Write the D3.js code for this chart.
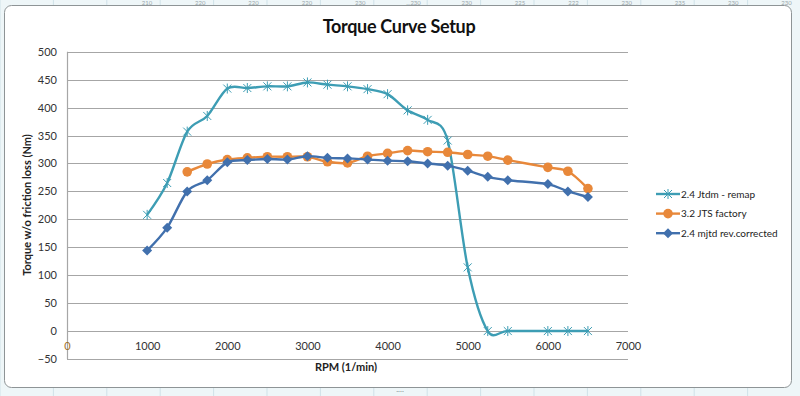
<!DOCTYPE html>
<html>
<head>
<meta charset="utf-8">
<script src="https://cdn.jsdelivr.net/npm/d3@7"></script>
<style>
  body { margin: 0; background: #fff; }
  svg { display: block; font-family: Lato, "Open Sans", sans-serif; }
</style>
</head>
<body>
<div id="chart"></div>
<script>
'use strict';

// data
const rpmJtdm = [1000, 1250, 1500, 1750, 2000, 2250, 2500, 2750, 3000, 3250, 3500, 3750, 4000, 4250, 4500, 4750, 5000, 5250, 5500, 6000, 6250, 6500];
const torqueJtdm = [208, 265, 357, 385, 434, 435, 438, 438, 445, 441, 438, 433, 424, 395, 378, 341, 114, 0, 0, 0, 0, 0];

const rpmJts = [1500, 1750, 2000, 2250, 2500, 2750, 3000, 3250, 3500, 3750, 4000, 4250, 4500, 4750, 5000, 5250, 5500, 6000, 6250, 6500];
const torqueJts = [285, 299, 307, 310, 312, 312, 312, 303, 301, 313, 318, 323, 321, 320, 316, 313, 306, 293, 286, 255];

const rpmMjtd = [1000, 1250, 1500, 1750, 2000, 2250, 2500, 2750, 3000, 3250, 3500, 3750, 4000, 4250, 4500, 4750, 5000, 5250, 5500, 6000, 6250, 6500];
const torqueMjtd = [144, 185, 250, 270, 302, 306, 308, 307, 313, 310, 309, 307, 305, 304, 300, 296, 287, 276, 270, 263, 250, 240];

const seriesNames = ['2.4 Jtdm - remap', '3.2 JTS factory', '2.4 mjtd rev.corrected'];
const xTicks = [0, 1000, 2000, 3000, 4000, 5000, 6000, 7000];
const yTicks = [-50, 0, 50, 100, 150, 200, 250, 300, 350, 400, 450, 500];
const sheetHeader = ['210', '220', '220', '220', '230', '...230', '230', '225', '222', '230', '235', '230', '230'];

const width = 800;
const height = 396;

const svg = d3.select('#chart')
              .append('svg')
              .attr('width', width)
              .attr('height', height);

// spreadsheet behind the chart object
svg.append('rect')
   .attr('width', width)
   .attr('height', height)
   .attr('fill', '#eef6f8');

const colX = d3.range(0, width + 53, 53.4);
svg.selectAll('.colline')
   .data(colX)
   .enter()
   .append('line')
   .attr('x1', function(d) { return d; })
   .attr('x2', function(d) { return d; })
   .attr('y1', 0)
   .attr('y2', height)
   .attr('stroke', '#cfe2e8');

svg.selectAll('.hdr')
   .data(sheetHeader)
   .enter()
   .append('text')
   .attr('x', function(d, i) { return 147 + i * 53.3; })
   .attr('y', 5)
   .attr('text-anchor', 'middle')
   .style('font-size', '6px')
   .attr('fill', '#9aa6ab')
   .text(function(d) { return d; });

// chart frame
svg.append('rect')
   .attr('x', 4.5)
   .attr('y', 5.5)
   .attr('width', 787)
   .attr('height', 382)
   .attr('rx', 7)
   .attr('fill', '#fff')
   .attr('stroke', '#8e9496');

svg.append('text')
   .attr('x', 400)
   .attr('y', 391.5)
   .attr('text-anchor', 'middle')
   .style('font-size', '8px')
   .attr('fill', '#7d8a8f')
   .text('....');

const x = d3.scaleLinear().domain([0, 7000]).range([67, 628]);
const y = d3.scaleLinear().domain([-50, 500]).range([359, 51.7]);

// gridlines
svg.selectAll('.grid')
   .data(yTicks)
   .enter()
   .append('line')
   .attr('x1', x(0))
   .attr('x2', x(7000))
   .attr('y1', function(d) { return Math.round(y(d)) + 0.5; })
   .attr('y2', function(d) { return Math.round(y(d)) + 0.5; })
   .attr('stroke', '#a6a6a6')
   .attr('stroke-width', 1.2);

svg.append('line')
   .attr('x1', Math.round(x(0)) + 0.5)
   .attr('x2', Math.round(x(0)) + 0.5)
   .attr('y1', y(500))
   .attr('y2', y(-50))
   .attr('stroke', '#a6a6a6')
   .attr('stroke-width', 1.2);

// axes (labels only, lines drawn above)
const yAxis = svg.append('g')
                 .attr('transform', 'translate(' + x(0) + ',0)')
                 .call(d3.axisLeft(y).tickValues(yTicks).tickSize(0).tickPadding(10));
yAxis.select('.domain').remove();
yAxis.selectAll('text')
     .style('font-size', '11px')
     .style('font-family', 'Lato, sans-serif')
     .attr('fill', '#333');

const xAxis = svg.append('g')
                 .attr('transform', 'translate(0,' + y(0) + ')')
                 .call(d3.axisBottom(x).tickValues(xTicks).tickFormat(d3.format('d')).tickSize(0).tickPadding(11));
xAxis.select('.domain').remove();
xAxis.selectAll('text')
     .style('font-size', '11px')
     .style('font-family', 'Lato, sans-serif')
     .attr('fill', '#333');
xAxis.selectAll('.tick')
     .filter(function(d) { return d === 0; })
     .select('text')
     .attr('fill', '#a0702a');

// titles
svg.append('text')
   .attr('x', 399)
   .attr('y', 33)
   .attr('text-anchor', 'middle')
   .style('font-size', '18px')
   .style('font-weight', 'bold')
   .style('letter-spacing', '-0.3px')
   .attr('fill', '#111')
   .text('Torque Curve Setup');

svg.append('text')
   .attr('transform', 'translate(31,205) rotate(-90)')
   .attr('text-anchor', 'middle')
   .style('font-size', '11px')
   .style('font-weight', 'bold')
   .attr('fill', '#222')
   .text('Torque w/o friction loss  (Nm)');

svg.append('text')
   .attr('x', 346)
   .attr('y', 371)
   .attr('text-anchor', 'middle')
   .style('font-size', '11px')
   .style('font-weight', 'bold')
   .attr('fill', '#222')
   .text('RPM (1/min)');

// series
const colours = ['#3d9db4', '#e8883a', '#4170ad'];

function starPath(r) {
  return 'M' + (-r) + ',' + (-r) + 'L' + r + ',' + r +
         'M' + (-r) + ',' + r + 'L' + r + ',' + (-r) +
         'M0,' + (-r - 1) + 'L0,' + (r + 1);
}
function diamondPath(r) {
  return 'M0,' + (-r) + 'L' + r + ',0L0,' + r + 'L' + (-r) + ',0Z';
}

const series = [
  { name: seriesNames[0], rpm: rpmJtdm, torque: torqueJtdm, colour: colours[0], marker: 'star' },
  { name: seriesNames[1], rpm: rpmJts, torque: torqueJts, colour: colours[1], marker: 'circle' },
  { name: seriesNames[2], rpm: rpmMjtd, torque: torqueMjtd, colour: colours[2], marker: 'diamond' }
];

const line = d3.line()
               .x(function(d) { return x(d[0]); })
               .y(function(d) { return y(d[1]); })
               .curve(d3.curveCardinal.tension(0.1));

function drawMarker(g, type, colour) {
  if (type === 'star') {
    g.append('path')
     .attr('d', starPath(4))
     .attr('fill', 'none')
     .attr('stroke', colour)
     .attr('stroke-width', 1);
  } else if (type === 'circle') {
    g.append('circle')
     .attr('r', 4.8)
     .attr('fill', colour);
  } else {
    g.append('path')
     .attr('d', diamondPath(5))
     .attr('fill', colour);
  }
}

series.forEach(function(s) {
  const pts = s.rpm.map(function(r, i) { return [r, s.torque[i]]; });

  svg.append('path')
     .datum(pts)
     .attr('d', line)
     .attr('fill', 'none')
     .attr('stroke', s.colour)
     .attr('stroke-width', 2.4)
     .attr('stroke-linejoin', 'round');

  svg.selectAll('.m-' + s.marker)
     .data(pts)
     .enter()
     .append('g')
     .attr('class', 'm-' + s.marker)
     .attr('transform', function(d) { return 'translate(' + x(d[0]) + ',' + y(d[1]) + ')'; })
     .each(function() { drawMarker(d3.select(this), s.marker, s.colour); });
});

// legend
const legend = svg.selectAll('.legend')
                  .data(series)
                  .enter()
                  .append('g')
                  .attr('class', 'legend')
                  .attr('transform', function(d, i) { return 'translate(656,' + (194 + i * 19.6) + ')'; });

legend.append('line')
      .attr('x1', 0)
      .attr('x2', 24)
      .attr('stroke', function(d) { return d.colour; })
      .attr('stroke-width', 2.4);

legend.append('g')
      .attr('transform', 'translate(12,0)')
      .each(function(d) { drawMarker(d3.select(this), d.marker, d.colour); });

legend.append('text')
      .attr('x', 25)
      .attr('dy', '0.35em')
      .style('font-size', '10px')
      .attr('fill', '#222')
      .text(function(d) { return d.name; });
</script>
</body>
</html>
